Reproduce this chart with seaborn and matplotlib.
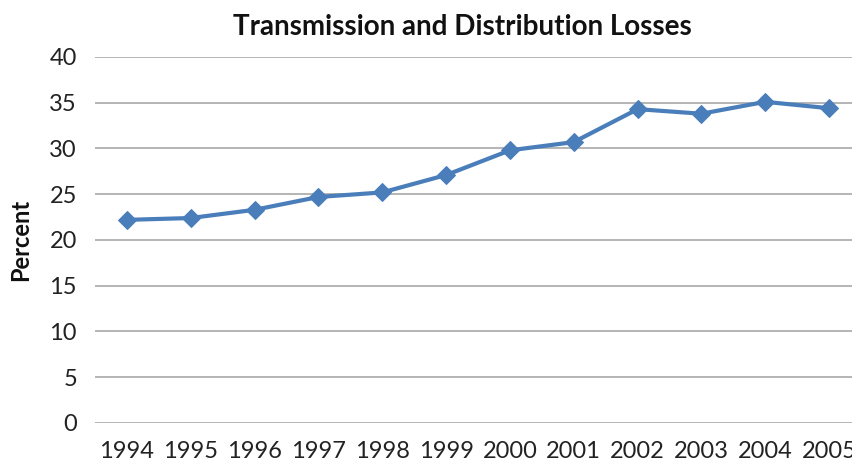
import pandas as pd
import matplotlib.pyplot as plt
import seaborn as sns

# ===== Data =====
years = ["1994", "1995", "1996", "1997", "1998", "1999",
         "2000", "2001", "2002", "2003", "2004", "2005"]
losses = [22.2, 22.4, 23.3, 24.7, 25.2, 27.1,
          29.8, 30.7, 34.3, 33.8, 35.1, 34.4]
y_ticks = [0, 5, 10, 15, 20, 25, 30, 35, 40]

sns.set_style("white")
plt.rcParams["font.family"] = ["Lato", "DejaVu Sans"]

df = pd.DataFrame({"Year": years, "Percent": losses})

fig = plt.figure(figsize=(8.53, 4.66), dpi=100)
ax = fig.add_axes([0.1114, 0.0923, 0.8980, 0.7854])

sns.lineplot(data=df, x="Year", y="Percent", ax=ax, color="#4a7ebb",
             linewidth=3, marker="D", markersize=9, markeredgecolor="#4a7ebb")

ax.set_xlim(-0.5, len(years) - 0.5)
ax.set_ylim(0, 40)
ax.set_yticks(y_ticks)
ax.yaxis.grid(True, color="#b4b4b4", linewidth=1.4)
ax.set_axisbelow(True)
for s in ax.spines.values():
    s.set_visible(False)
ax.tick_params(axis="both", length=0, labelsize=17, colors="#222222")
ax.tick_params(axis="y", pad=13)
ax.tick_params(axis="x", pad=13)

ax.set_xlabel("")
ax.set_ylabel("")
fig.text(0.024, 0.485, "Percent", rotation=90, ha="center", va="center",
         fontsize=17, fontweight="bold", color="#111111")
fig.text(0.542, 0.925, "Transmission and Distribution Losses", ha="center",
         va="baseline", fontsize=20, fontweight="bold", color="#111111")

fig.savefig("out.png", dpi=100)
